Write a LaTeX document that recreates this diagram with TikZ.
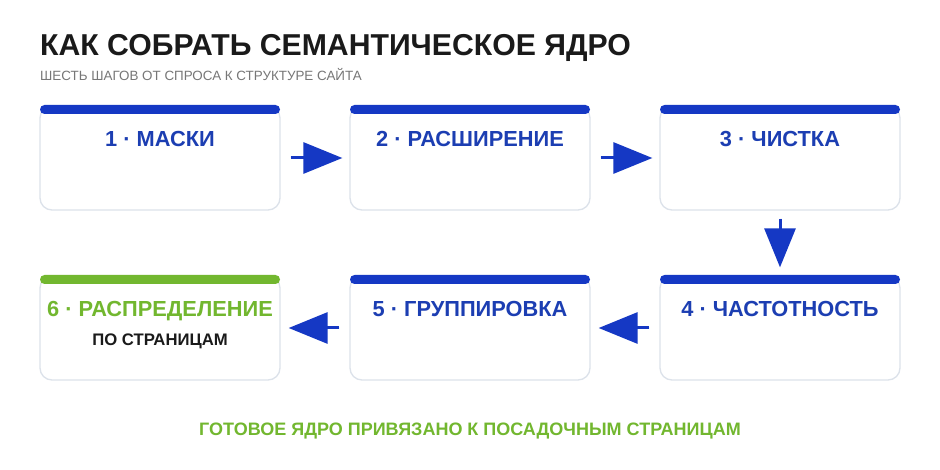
\documentclass[tikz,border=0pt]{standalone}
\usepackage{fontspec}
\setmainfont{Liberation Sans}
\usetikzlibrary{arrows.meta}
\definecolor{barblue}{HTML}{1538C4}
\definecolor{txtblue}{HTML}{1C3EB2}
\definecolor{grn}{HTML}{72B72F}
\definecolor{edge}{HTML}{DCE2EA}
\definecolor{subgray}{HTML}{777777}
\definecolor{ink}{HTML}{1A1A1A}
\tikzset{
  card/.style={draw=edge, line width=1.3pt, fill=white, rounded corners=12pt,
    minimum width=240pt, minimum height=104pt, inner sep=0pt},
  bartop/.style={rounded corners=4.5pt},
  lbl/.style={anchor=base, inner sep=0pt, font=\fontsize{21.8}{25}\selectfont\bfseries},
  flow/.style={draw=barblue, line width=3pt, -{Triangle[length=39pt,width=31pt]}, fill=barblue},
}
\begin{document}
\begin{tikzpicture}[x=1pt,y=-1pt]
\useasboundingbox[fill=white] (0,0) rectangle (940,470);
% title
\node[anchor=base west, inner sep=0pt, text=ink, font=\fontsize{30.2}{34}\selectfont\bfseries] (title) at (40,56) {КАК СОБРАТЬ СЕМАНТИЧЕСКОЕ ЯДРО};
\node[anchor=base west, inner sep=0pt, text=subgray, font=\fontsize{13.4}{16}\selectfont] (sub) at (40,81) {ШЕСТЬ ШАГОВ ОТ СПРОСА К СТРУКТУРЕ САЙТА};
% cards
\node[card] (b1) at (160,158) {};
\node[card] (b2) at (470,158) {};
\node[card] (b3) at (780,158) {};
\node[card] (b4) at (780,328) {};
\node[card] (b5) at (470,328) {};
\node[card] (b6) at (160,328) {};
% bars
\fill[barblue, bartop] (40,105) rectangle (280,114);
\fill[barblue, bartop] (350,105) rectangle (590,114);
\fill[barblue, bartop] (660,105) rectangle (900,114);
\fill[barblue, bartop] (660,275) rectangle (900,284);
\fill[barblue, bartop] (350,275) rectangle (590,284);
\fill[grn, bartop] (40,275) rectangle (280,284);
% labels
\node[lbl, text=txtblue] (t1) at (160,147) {1 · МАСКИ};
\node[lbl, text=txtblue] (t2) at (470,147) {2 · РАСШИРЕНИЕ};
\node[lbl, text=txtblue] (t3) at (780,147) {3 · ЧИСТКА};
\node[lbl, text=txtblue] (t4) at (780,317) {4 · ЧАСТОТНОСТЬ};
\node[lbl, text=txtblue] (t5) at (470,317) {5 · ГРУППИРОВКА};
\node[lbl, text=grn] (t6) at (160,317) {6 · РАСПРЕДЕЛЕНИЕ};
\node[anchor=base, inner sep=0pt, text=ink, font=\fontsize{16.7}{19}\selectfont\bfseries] (t6b) at (160,345.5) {ПО СТРАНИЦАМ};
% arrows
\draw[flow] ([xshift=10pt]b1.east) -- ([xshift=-7pt]b2.west);
\draw[flow] ([xshift=10pt]b2.east) -- ([xshift=-7pt]b3.west);
\draw[flow] ([yshift=-8pt]b3.south) -- ([yshift=8pt]b4.north);
\draw[flow] ([xshift=-10pt]b4.west) -- ([xshift=8pt]b5.east);
\draw[flow] ([xshift=-10pt]b5.west) -- ([xshift=8pt]b6.east);
% footer
\node[anchor=base, inner sep=0pt, text=grn, font=\fontsize{18}{21}\selectfont\bfseries] (foot) at (470,435) {ГОТОВОЕ ЯДРО ПРИВЯЗАНО К ПОСАДОЧНЫМ СТРАНИЦАМ};
\end{tikzpicture}
\end{document}
